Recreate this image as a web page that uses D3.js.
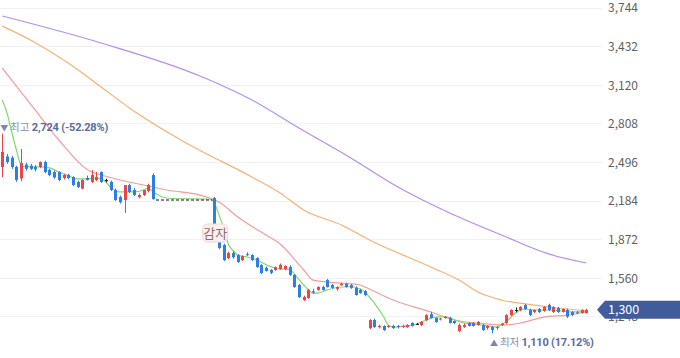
<!DOCTYPE html>
<html><head><meta charset="utf-8">
<script src="https://cdn.jsdelivr.net/npm/d3@7"></script>
<style>body{margin:0;background:#fff}svg{display:block}text{font-family:"Noto Sans CJK KR","Noto Sans",sans-serif}</style>
</head><body><svg id="c" width="680" height="358"></svg>
<script>
const yTicks=[3744,3432,3120,2808,2496,2184,1872,1560,1248];
// [open, high, low, close]; null = trading halt (감자)
const candles=[
[2455,2724,2374,2576],[2540,2560,2480,2495],[2530,2545,2440,2455],[2455,2465,2334,2350],[2362,2600,2340,2487],
[2475,2490,2425,2440],[2465,2480,2430,2440],[2455,2470,2420,2435],[2455,2500,2445,2495],[2495,2505,2405,2414],
[2431,2440,2380,2390],[2414,2425,2360,2370],[2414,2420,2340,2350],[2366,2400,2355,2390],[2390,2400,2355,2366],
[2374,2380,2300,2309],[2334,2345,2285,2293],[2280,2355,2275,2350],[2366,2385,2345,2350],[2334,2431,2325,2390],
[2350,2414,2340,2374],[2414,2420,2325,2334],[2350,2360,2330,2350],[2334,2345,2260,2269],[2269,2280,2180,2188],
[2212,2225,2160,2170],[2188,2310,2083,2309],[2309,2320,2245,2253],[2269,2285,2220,2228],[2212,2240,2200,2228],
[2228,2260,2220,2269],[2260,2320,2250,2309],[2390,2405,2190,2196],
null,null,null,null,null,null,null,null,null,null,null,null,
[2204,2212,1960,1970],[1865,1880,1790,1800],[1824,1835,1695,1703],[1719,1770,1710,1760],[1760,1775,1715,1725],
[1743,1750,1680,1687],[1703,1740,1695,1735],[1750,1765,1735,1743],[1743,1750,1695,1703],[1719,1725,1640,1646],
[1663,1670,1590,1598],[1640,1650,1610,1614],[1622,1630,1590,1600],[1622,1650,1615,1646],[1630,1675,1625,1663],
[1630,1660,1620,1655],[1646,1660,1575,1582],[1582,1590,1478,1485],[1501,1510,1395,1404],[1380,1415,1372,1404],
[1396,1470,1390,1461],[1450,1470,1430,1440],[1461,1490,1455,1485],[1485,1495,1455,1461],[1541,1550,1480,1485],
[1501,1510,1470,1478],[1470,1490,1455,1485],[1500,1520,1495,1510],[1510,1520,1480,1485],[1500,1510,1470,1478],
[1478,1490,1415,1420],[1461,1470,1430,1436],[1452,1460,1410,1420],[1153,1225,1145,1218],[1218,1230,1155,1161],
[1161,1180,1150,1170],[1170,1175,1130,1137],[1161,1178,1155,1170],[1170,1180,1145,1153],[1170,1178,1150,1161],
[1161,1180,1155,1170],[1161,1185,1155,1178],[1194,1200,1165,1170],[1186,1195,1178,1186],[1178,1210,1170,1202],
[1218,1265,1210,1258],[1266,1285,1230,1234],[1234,1240,1195,1202],[1222,1235,1215,1230],[1234,1250,1228,1245],
[1234,1245,1190,1194],[1210,1215,1185,1194],[1129,1190,1120,1178],[1161,1190,1155,1178],[1194,1200,1165,1170],
[1194,1200,1165,1170],[1178,1210,1172,1202],[1178,1185,1130,1137],[1153,1175,1140,1170],[1161,1170,1110,1137],
[1153,1170,1140,1161],[1178,1195,1170,1190],[1194,1265,1185,1258],[1258,1305,1250,1299],[1299,1320,1280,1299],
[1299,1330,1290,1323],[1339,1348,1300,1307],[1299,1310,1250,1258],[1283,1305,1275,1299],[1307,1315,1275,1283],
[1290,1330,1285,1323],[1340,1350,1290,1299],[1283,1330,1275,1323],[1315,1325,1275,1283],[1283,1310,1278,1307],
[1299,1310,1235,1245],[1283,1290,1250,1258],[1280,1290,1265,1275],[1275,1305,1270,1299],[1275,1310,1270,1300]
];
// moving averages: [day index, value]
const ma5=[[0,2996],[1,2891],[2,2738],[3,2592],[4,2471],[5,2455],[8,2455],[10,2447],[12,2414],[14,2385],[16,2358],[18,2358],[20,2366],[22,2334],[23,2290],[25,2253],[28,2253],[30,2269],[31,2285],[32,2253],[33,2230],[34,2212],[36,2200],[44,2196],[45,2165],[46,2070],[47,1962],[48,1830],[49,1780],[50,1743],[52,1727],[54,1703],[57,1650],[59,1630],[61,1628],[62,1590],[63,1545],[64,1501],[65,1460],[66,1436],[67,1436],[69,1461],[72,1485],[74,1487],[76,1469],[77,1444],[78,1400],[79,1355],[80,1300],[81,1242],[82,1175],[83,1161],[86,1170],[88,1186],[90,1218],[92,1242],[94,1245],[96,1220],[98,1194],[100,1186],[103,1170],[105,1161],[106,1180],[107,1205],[108,1240],[109,1275],[111,1307],[113,1299],[116,1299],[119,1291],[121,1283],[124,1283]];
const ma20=[[0,3255],[7,2915],[12,2673],[19,2414],[21,2390],[25,2350],[31,2301],[35,2269],[42,2228],[44,2204],[46,2172],[50,2051],[56,1905],[59,1832],[64,1622],[66,1541],[69,1525],[76,1501],[77,1485],[83,1380],[91,1283],[96,1218],[103,1186],[107,1178],[110,1194],[115,1242],[120,1258],[124,1283]];
const ma60=[[0,3594],[6,3481],[14,3295],[21,3101],[27,2932],[35,2738],[43,2568],[46,2511],[53,2374],[59,2245],[64,2107],[72,1986],[78,1865],[91,1646],[97,1541],[101,1444],[106,1380],[113,1339],[118,1315],[124,1291]];
const ma120=[[0,3675],[21,3457],[42,3190],[53,2996],[63,2770],[74,2528],[84,2293],[95,2083],[106,1905],[116,1752],[124,1679]];
const currentPrice=1300;
const highInfo={idx:0,label:"최고",price:2724,pct:"-52.28%"};
const lowInfo={idx:104,label:"최저",price:1110,pct:"17.12%"};
const eventInfo={idx:45,label:"감자"};

const svg=d3.select("#c");
const fmt=d3.format(",");
const x=d3.scaleLinear().domain([0,candles.length-1]).range([2.3,586.3]);
const y=d3.scaleLinear().domain([1248,3744]).range([316.3,7.5]);

// grid
svg.append("g").selectAll("line").data(yTicks).join("line")
  .attr("x1",0).attr("x2",602).attr("y1",d=>Math.round(y(d))+0.5).attr("y2",d=>Math.round(y(d))+0.5)
  .attr("stroke","#f1f1f5").attr("stroke-width",1);
// axis labels
const ax=d3.axisRight(y).tickValues(yTicks).tickFormat(fmt).tickSize(0).tickPadding(0);
const ag=svg.append("g").attr("transform","translate(608,0.5)").call(ax);
ag.select(".domain").remove();
ag.selectAll("text").attr("fill","#606060").attr("font-size","12px").style("font-family",'"Noto Sans CJK KR","Noto Sans",sans-serif');

// MA lines
const line=d3.line().x(d=>x(d[0])).y(d=>y(d[1])).curve(d3.curveMonotoneX);
[[ma120,"#b58cf3"],[ma60,"#fbb072"],[ma20,"#f79b9b"],[ma5,"#7fd86f"]].forEach(([d,c])=>{
  svg.append("path").datum(d).attr("d",line).attr("fill","none").attr("stroke",c).attr("stroke-width",1.2);
});

// halt dashed line
const lastBefore=candles.findIndex(d=>d===null)-1;
const firstAfter=candles.findIndex((d,i)=>i>lastBefore&&d!==null);
svg.append("line").attr("x1",x(lastBefore)+3).attr("x2",x(firstAfter)-2)
  .attr("y1",y(candles[lastBefore][3])+1).attr("y2",y(candles[lastBefore][3])+1)
  .attr("stroke","#111").attr("stroke-width",1.2).attr("stroke-dasharray","3,2");

// candles
const up="#f0424b", dn="#2c7fe8", flat="#222";
const cg=svg.append("g");
candles.forEach((d,i)=>{
  if(!d) return;
  const [o,h,l,c]=d;
  const col=c>o?up:(c<o?dn:flat);
  const cx=Math.round(x(i))+0.5;
  cg.append("line").attr("x1",cx).attr("x2",cx).attr("y1",y(h)).attr("y2",y(l)).attr("stroke",col).attr("stroke-width",1);
  const top=y(Math.max(o,c)), bot=y(Math.min(o,c));
  cg.append("rect").attr("x",cx-1.5).attr("width",3).attr("y",top).attr("height",Math.max(1,bot-top)).attr("fill",col);
});

// event label
const ex=x(eventInfo.idx);
const eg=svg.append("g");
eg.append("rect").attr("x",ex-11.5).attr("y",224).attr("width",25).attr("height",18).attr("rx",5)
  .attr("fill","#fdf1f0").attr("stroke","#f1d4d0").attr("stroke-width",1);
eg.append("text").attr("x",ex+1).attr("y",238).attr("text-anchor","middle").attr("font-size","13px").attr("fill","#946a66").text(eventInfo.label);

// high / low annotations
function annot(info,ypos,tri){
  const t=svg.append("text").attr("x",x(info.idx)-2).attr("y",ypos).attr("font-size","11px");
  t.append("tspan").attr("fill","#7a86ad").attr("font-size","8px").text(tri+" ");
  t.append("tspan").attr("fill","#858fb2").attr("font-size","10.5px").text(info.label+" ");
  t.append("tspan").attr("fill","#5a6b9f").attr("font-weight","bold").style("font-family","Roboto,sans-serif")
    .attr("letter-spacing","-0.2").text(fmt(info.price)+" ("+info.pct+")");
}
annot(highInfo,131,"▼");
annot(lowInfo,346,"▲");

// current price tag
const py=y(currentPrice);
svg.append("path").attr("d",`M597,${py} L605,${py-9} L680,${py-9} L680,${py+9} L605,${py+9} Z`).attr("fill","#405c9a");
svg.append("text").attr("x",608).attr("y",py+4.5).attr("font-size","12.5px").attr("fill","#fff").text(fmt(currentPrice));
</script></body></html>
